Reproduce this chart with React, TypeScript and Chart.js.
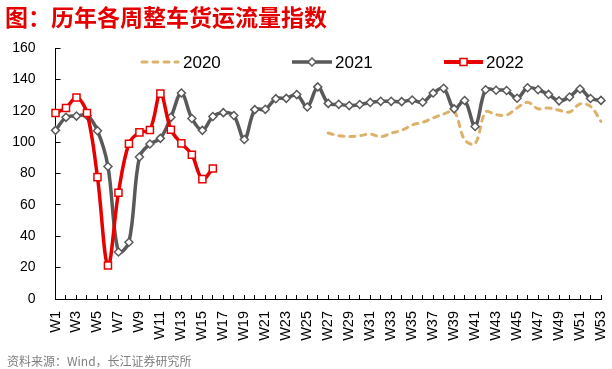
import React, { useEffect, useRef } from "react";
import { Chart, registerables } from "chart.js";

Chart.register(...registerables);

const weeks = [
  "W1", "W2", "W3", "W4", "W5", "W6", "W7", "W8", "W9", "W10",
  "W11", "W12", "W13", "W14", "W15", "W16", "W17", "W18", "W19", "W20",
  "W21", "W22", "W23", "W24", "W25", "W26", "W27", "W28", "W29", "W30",
  "W31", "W32", "W33", "W34", "W35", "W36", "W37", "W38", "W39", "W40",
  "W41", "W42", "W43", "W44", "W45", "W46", "W47", "W48", "W49", "W50",
  "W51", "W52", "W53",
];

const seriesNames = ["2020", "2021", "2022"];

const values2020 = [
  null, null, null, null, null, null, null, null, null, null,
  null, null, null, null, null, null, null, null, null, null,
  null, null, null, null, null, null,
  105.8, 104.1, 103.6, 104.1, 105.2, 103.4, 105.7, 107.5, 110.9, 112.6,
  115.4, 117.9, 119.6, 101.5, 99.0, 119.2, 117.5, 117.3, 121.8, 125.4,
  121.3, 121.8, 120.3, 119.2, 124.3, 122.8, 113.2,
];

const values2021 = [
  107.5, 115.8, 116.6, 117.0, 107.3, 84.5, 30.0, 36.2, 90.5, 98.8,
  102.4, 115.8, 131.3, 115.1, 107.5, 116.3, 118.8, 117.0, 101.7, 120.7,
  120.9, 127.7, 127.9, 130.3, 122.4, 135.2, 124.7, 124.1, 123.3, 124.0,
  125.3, 126.0, 126.0, 125.8, 126.8, 125.4, 131.3, 134.3, 121.2, 126.5,
  110.0, 133.4, 133.1, 132.9, 128.0, 134.7, 133.4, 130.4, 126.3, 128.8,
  133.9, 127.8, 126.6,
];

const values2022 = [
  118.6, 121.8, 128.5, 118.6, 77.7, 21.3, 67.7, 99.0, 106.2, 107.7,
  130.9, 107.9, 99.2, 92.0, 76.4, 83.2,
];

const yMin = 0;
const yMax = 160;
const yStep = 20;

const COLOR_2020 = "#dcb26a";
const COLOR_2021 = "#595959";
const COLOR_2022 = "#e60000";
const FONT = "'Liberation Sans', Arial, sans-serif";
const DASH = [5, 6];

const legendPlugin = {
  id: "customLegend",
  afterDraw(chart: any) {
    const ctx = chart.ctx as CanvasRenderingContext2D;
    const y = 62;
    ctx.save();
    ctx.font = `17px ${FONT}`;
    ctx.textBaseline = "middle";
    ctx.textAlign = "left";
    ctx.fillStyle = "#000";

    // 2020 dashed
    ctx.beginPath();
    ctx.strokeStyle = COLOR_2020;
    ctx.lineWidth = 3;
    ctx.lineCap = "round";
    ctx.setLineDash(DASH);
    ctx.moveTo(142, y);
    ctx.lineTo(178, y);
    ctx.stroke();
    ctx.setLineDash([]);
    ctx.fillText(seriesNames[0], 183, y + 1);

    // 2021 line + diamond
    ctx.beginPath();
    ctx.strokeStyle = COLOR_2021;
    ctx.lineWidth = 3.5;
    ctx.lineCap = "butt";
    ctx.moveTo(292, y);
    ctx.lineTo(332, y);
    ctx.stroke();
    ctx.beginPath();
    const dx = 312, dr = 4;
    ctx.moveTo(dx, y - dr);
    ctx.lineTo(dx + dr, y);
    ctx.lineTo(dx, y + dr);
    ctx.lineTo(dx - dr, y);
    ctx.closePath();
    ctx.fillStyle = "#fff";
    ctx.fill();
    ctx.lineWidth = 1.5;
    ctx.stroke();
    ctx.fillStyle = "#000";
    ctx.fillText(seriesNames[1], 335, y + 1);

    // 2022 line + square
    ctx.beginPath();
    ctx.strokeStyle = COLOR_2022;
    ctx.lineWidth = 4;
    ctx.moveTo(444, y);
    ctx.lineTo(483, y);
    ctx.stroke();
    ctx.beginPath();
    const sx = 463.5, ss = 3.5;
    ctx.rect(sx - ss, y - ss, ss * 2, ss * 2);
    ctx.fillStyle = "#fff";
    ctx.fill();
    ctx.lineWidth = 1.5;
    ctx.stroke();
    ctx.fillStyle = "#000";
    ctx.fillText(seriesNames[2], 486, y + 1);

    ctx.restore();
  },
};

export default function App() {
  const canvasRef = useRef<HTMLCanvasElement | null>(null);

  useEffect(() => {
    const canvas = canvasRef.current;
    if (!canvas) return;
    const chart = new Chart(canvas, {
      type: "line",
      data: {
        labels: weeks,
        datasets: [
          {
            label: seriesNames[2],
            data: values2022,
            borderColor: COLOR_2022,
            backgroundColor: "#ffffff",
            borderWidth: 3.5,
            tension: 0.35,
            pointStyle: "rect",
            pointRadius: 5,
            pointBorderWidth: 1.5,
            pointBorderColor: COLOR_2022,
            pointBackgroundColor: "#ffffff",
            order: 0,
          },
          {
            label: seriesNames[1],
            data: values2021,
            borderColor: COLOR_2021,
            backgroundColor: "#ffffff",
            borderWidth: 3.5,
            tension: 0.35,
            pointStyle: "rectRot",
            pointRadius: 4,
            pointBorderWidth: 1.5,
            pointBorderColor: COLOR_2021,
            pointBackgroundColor: "#ffffff",
            order: 1,
          },
          {
            label: seriesNames[0],
            data: values2020,
            borderColor: COLOR_2020,
            borderWidth: 3,
            borderDash: DASH,
            borderCapStyle: "round",
            tension: 0.35,
            pointRadius: 0,
            spanGaps: false,
            order: 2,
          },
        ],
      },
      options: {
        animation: false,
        responsive: false,
        maintainAspectRatio: false,
        layout: { padding: { top: 48, right: 11, bottom: 0, left: 0 } },
        plugins: {
          legend: { display: false },
          tooltip: { enabled: false },
        },
        scales: {
          x: {
            type: "category",
            offset: false,
            grid: {
              display: true,
              drawOnChartArea: false,
              drawTicks: true,
              tickLength: -4,
              color: "#000",
              lineWidth: 1,
            },
            border: { display: true, color: "#000", width: 1 },
            ticks: {
              autoSkip: false,
              maxRotation: 90,
              minRotation: 90,
              padding: 16,
              color: "#000",
              font: { family: FONT, size: 14.5 },
              callback: (_v: any, i: number) => (i % 2 === 0 ? weeks[i] : ""),
            },
            afterFit: (s: any) => {
              s.height = 70;
              s.paddingLeft = 0;
              s.paddingRight = 0;
            },
          },
          y: {
            min: yMin,
            max: yMax,
            grid: {
              display: true,
              drawOnChartArea: false,
              drawTicks: true,
              tickLength: -5,
              color: "#000",
              lineWidth: 1,
            },
            border: { display: true, color: "#000", width: 1 },
            ticks: {
              stepSize: yStep,
              padding: 25,
              color: "#000",
              font: { family: FONT, size: 14 },
            },
            afterFit: (s: any) => {
              s.width = 55.5;
            },
          },
        },
      },
      plugins: [legendPlugin],
    } as any);
    return () => chart.destroy();
  }, []);

  return (
    <div
      style={{
        position: "fixed",
        left: 0,
        top: 0,
        width: 612,
        height: 369,
        background: "#fff",
        overflow: "hidden",
      }}
    >
      <canvas
        ref={canvasRef}
        width={612}
        height={369}
        style={{ position: "absolute", left: 0, top: 0, width: 612, height: 369 }}
      />
      <div
        style={{
          position: "absolute",
          left: 5,
          top: 5,
          fontFamily: "'Noto Sans CJK SC', sans-serif",
          fontWeight: 700,
          fontSize: 23,
          lineHeight: "23px",
          color: "#e50000",
          whiteSpace: "nowrap",
        }}
      >
        图：历年各周整车货运流量指数
      </div>
      <div
        style={{
          position: "absolute",
          left: 7,
          top: 354,
          fontFamily: "'Noto Sans CJK SC', sans-serif",
          fontSize: 12,
          lineHeight: "13px",
          color: "#7f7f7f",
          whiteSpace: "nowrap",
        }}
      >
        资料来源：Wind，长江证券研究所
      </div>
    </div>
  );
}
